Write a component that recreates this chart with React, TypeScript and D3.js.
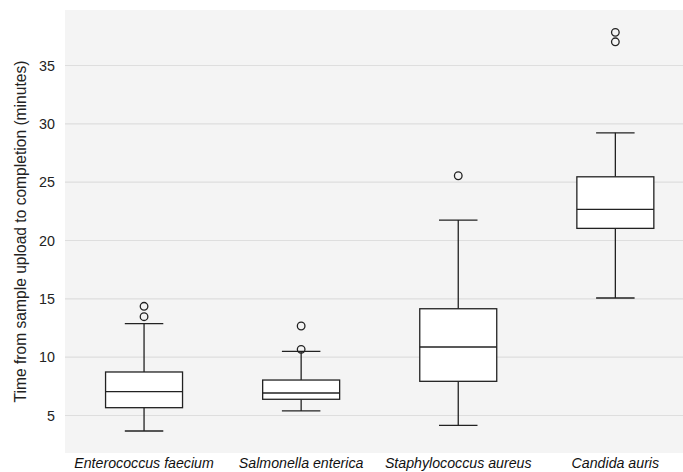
import { useEffect, useRef } from "react";
import * as d3 from "d3";

const species = [
  "Enterococcus faecium",
  "Salmonella enterica",
  "Staphylococcus aureus",
  "Candida auris"
];
const whiskerLow = [3.67, 5.39, 4.16, 15.07];
const q1 = [5.67, 6.39, 7.93, 21.04];
const median = [7.04, 6.93, 10.87, 22.67];
const q3 = [8.73, 8.04, 14.15, 25.46];
const whiskerHigh = [12.88, 10.5, 21.75, 29.23];
const outliers = [
  [14.36, 13.47],
  [12.67, 10.67],
  [25.55],
  [37.84, 37.03]
];
const yTicks = [5, 10, 15, 20, 25, 30, 35];

export default function App() {
  const ref = useRef<SVGSVGElement>(null);

  useEffect(() => {
    const svg = d3.select(ref.current);
    svg.selectAll("*").remove();

    const width = 683;
    const height = 472;
    const panel = { left: 65, top: 10, right: 683, bottom: 453 };
    const font = "Liberation Sans, Arial, sans-serif";

    svg.attr("width", width).attr("height", height);

    const x = d3.scaleLinear().domain([0.5, 4.5]).range([65.5, 65.5 + 4 * 157.1]);
    const y = d3.scaleLinear().domain([5, 35]).range([415.5, 65.5]);
    const boxW = 0.49;

    svg.append("rect")
      .attr("x", panel.left)
      .attr("y", panel.top)
      .attr("width", panel.right - panel.left)
      .attr("height", panel.bottom - panel.top)
      .attr("fill", "#f4f4f4");

    svg.append("g")
      .selectAll("line")
      .data(yTicks)
      .join("line")
      .attr("x1", panel.left)
      .attr("x2", panel.right)
      .attr("y1", d => y(d))
      .attr("y2", d => y(d))
      .attr("stroke", "#dedede")
      .attr("stroke-width", 1.1);

    svg.append("g")
      .selectAll("text")
      .data(yTicks)
      .join("text")
      .attr("x", 55)
      .attr("y", d => y(d))
      .attr("dy", "0.35em")
      .attr("text-anchor", "end")
      .attr("font-family", font)
      .attr("font-size", 14.3)
      .attr("fill", "#222")
      .text(d => d);

    svg.append("text")
      .attr("transform", `translate(21,${(panel.top + panel.bottom) / 2}) rotate(-90)`)
      .attr("dy", "0.35em")
      .attr("text-anchor", "middle")
      .attr("font-family", font)
      .attr("font-size", 15.6)
      .attr("fill", "#222")
      .text("Time from sample upload to completion (minutes)");

    species.forEach((name, i) => {
      const cx = x(i + 1);
      const half = (x(boxW) - x(0)) / 2;
      const g = svg.append("g")
        .attr("stroke", "#222")
        .attr("stroke-width", 1.3)
        .attr("fill", "none");

      g.append("line")
        .attr("x1", cx).attr("x2", cx)
        .attr("y1", y(q3[i])).attr("y2", y(whiskerHigh[i]));
      g.append("line")
        .attr("x1", cx).attr("x2", cx)
        .attr("y1", y(q1[i])).attr("y2", y(whiskerLow[i]));
      [whiskerHigh[i], whiskerLow[i]].forEach(v => {
        g.append("line")
          .attr("x1", cx - half / 2).attr("x2", cx + half / 2)
          .attr("y1", y(v)).attr("y2", y(v));
      });

      g.append("rect")
        .attr("x", cx - half)
        .attr("y", y(q3[i]))
        .attr("width", half * 2)
        .attr("height", y(q1[i]) - y(q3[i]))
        .attr("fill", "#fff");
      g.append("line")
        .attr("x1", cx - half).attr("x2", cx + half)
        .attr("y1", y(median[i])).attr("y2", y(median[i]));

      outliers[i].forEach(v => {
        g.append("circle")
          .attr("cx", cx)
          .attr("cy", y(v))
          .attr("r", 3.8);
      });

      svg.append("text")
        .attr("x", cx)
        .attr("y", 468)
        .attr("text-anchor", "middle")
        .attr("font-family", font)
        .attr("font-size", 14.2)
        .attr("font-style", "italic")
        .attr("fill", "#111")
        .text(name);
    });
  }, []);

  return (
    <svg
      ref={ref}
      style={{ position: "absolute", left: 0, top: 0, display: "block", background: "#fff" }}
    ></svg>
  );
}
